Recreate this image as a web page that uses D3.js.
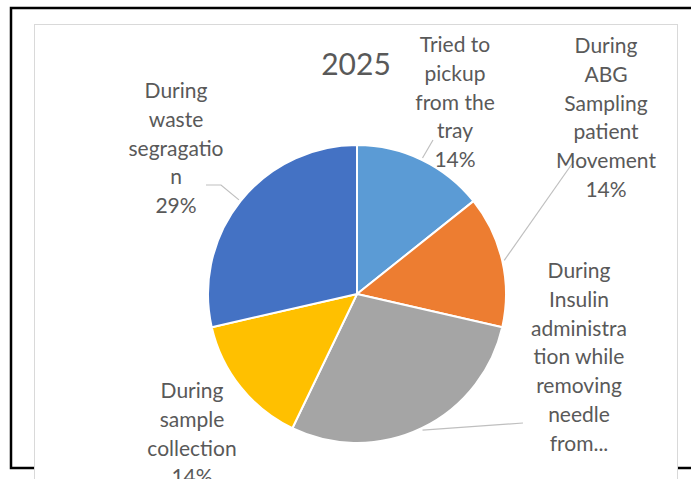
<!DOCTYPE html>
<html>
<head>
<meta charset="utf-8">
<script src="https://cdn.jsdelivr.net/npm/d3@7"></script>
<style>
  html, body { margin: 0; padding: 0; background: #ffffff; }
  svg { display: block; }
  text { font-family: Lato, "Open Sans", sans-serif; fill: #595959; }
</style>
</head>
<body>
<script>
// Needle-stick incidents by activity, 2025
const title = "2025";
const categories = [
  "Tried to pickup from the tray",
  "During ABG Sampling patient Movement",
  "During Insulin administration while removing needle from the patient",
  "During sample collection",
  "During waste segragation"
];
const values = [1, 1, 2, 1, 2];
// wrapped label text as it appears next to each slice
const labelLines = [
  ["Tried to", "pickup", "from the", "tray"],
  ["During", "ABG", "Sampling", "patient", "Movement"],
  ["During", "Insulin", "administra", "tion while", "removing", "needle", "from..."],
  ["During", "sample", "collection"],
  ["During", "waste", "segragatio", "n"]
];
// the long insulin label is truncated, so its percentage line is dropped
const showPercent = [true, true, false, true, true];
const colors = ["#5B9BD5", "#ED7D31", "#A5A5A5", "#FFC000", "#4472C4"];

const W = 691, H = 479;
const svg = d3.select("body").append("svg").attr("width", W).attr("height", H);

svg.append("rect").attr("width", W).attr("height", H).attr("fill", "#ffffff");

// outer black frame (runs past the right and bottom edges)
svg.append("rect")
  .attr("x", 11).attr("y", 8).attr("width", 720).attr("height", 460)
  .attr("fill", "#ffffff").attr("stroke", "#000000").attr("stroke-width", 2.5);

// chart area
svg.append("rect")
  .attr("x", 34.5).attr("y", 24.5).attr("width", 643).attr("height", 480)
  .attr("fill", "#ffffff").attr("stroke", "#d9d9d9").attr("stroke-width", 1);

const cx = 357, cy = 294, r = 149;
const g = svg.append("g").attr("transform", `translate(${cx},${cy})`);

const pie = d3.pie().sort(null).value(d => d);
const arcs = pie(values);
const arc = d3.arc().innerRadius(0).outerRadius(r);

g.selectAll("path.slice").data(arcs).join("path")
  .attr("class", "slice")
  .attr("d", arc)
  .attr("fill", (d, i) => colors[i])
  .attr("stroke", "#ffffff").attr("stroke-width", 2).attr("stroke-linejoin", "round");

const total = d3.sum(values);
const pct = d3.format(".0%");

// label anchor (centre x, first baseline) and leader start points, in page coordinates
const labelLayout = [
  { x: 455, y: 52, leader: [[433, 140]] },
  { x: 606, y: 53, leader: [[574, 161]] },
  { x: 579, y: 278, leader: [[523, 423]] },
  { x: 192, y: 398, leader: null },
  { x: 176, y: 98, leader: [[206, 185], [221, 185]] }
];
const lineStep = 28.8;

// leader lines end on the slice rim at the slice's mid angle
arcs.forEach((d, i) => {
  const lay = labelLayout[i];
  if (!lay.leader) return;
  const mid = (d.startAngle + d.endAngle) / 2;
  const end = [cx + Math.sin(mid) * (r + 2), cy - Math.cos(mid) * (r + 2)];
  svg.append("path")
    .attr("d", d3.line()(lay.leader.concat([end])))
    .attr("fill", "none").attr("stroke", "#bfbfbf").attr("stroke-width", 1.2);
});

arcs.forEach((d, i) => {
  const lay = labelLayout[i];
  const lines = showPercent[i]
    ? labelLines[i].concat([pct(values[i] / total)])
    : labelLines[i];
  const t = svg.append("text")
    .attr("text-anchor", "middle")
    .attr("font-size", 21);
  lines.forEach((ln, k) => {
    t.append("tspan").attr("x", lay.x).attr("y", lay.y + k * lineStep).text(ln);
  });
});

svg.append("text")
  .attr("x", 356).attr("y", 75)
  .attr("text-anchor", "middle")
  .attr("font-size", 30)
  .text(title);
</script>
</body>
</html>
